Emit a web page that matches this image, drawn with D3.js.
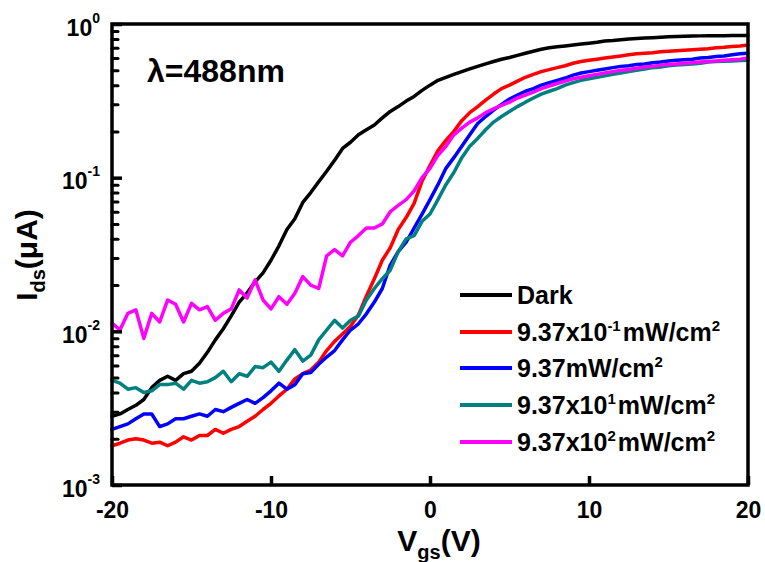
<!DOCTYPE html>
<html>
<head>
<meta charset="utf-8">
<script src="https://cdn.jsdelivr.net/npm/d3@7"></script>
<style>
  html, body { margin: 0; padding: 0; background: #fff; }
  svg { display: block; font-family: "Liberation Sans", Arial, sans-serif; font-weight: bold; }
</style>
</head>
<body>
<svg id="chart" width="765" height="562"></svg>
<script>
// Gate voltage sweep (V)
const vgs = [
  -20, -19.5, -19, -18.5, -18, -17.5, -17, -16.5, -16, -15.5,
  -15, -14.5, -14, -13.5, -13, -12.5, -12, -11.5, -11, -10.5,
  -10, -9.5, -9, -8.5, -8, -7.5, -7, -6.5, -6, -5.5,
  -5, -4.5, -4, -3.5, -3, -2.5, -2, -1.5, -1, -0.5,
  0, 0.5, 1, 1.5, 2, 2.5, 3, 3.5, 4, 4.5,
  5, 5.5, 6, 6.5, 7, 7.5, 8, 8.5, 9, 9.5,
  10, 10.5, 11, 11.5, 12, 12.5, 13, 13.5, 14, 14.5,
  15, 15.5, 16, 16.5, 17, 17.5, 18, 18.5, 19, 19.5, 20
];

// Drain current Ids (uA) for each illumination condition
const idsDark = [
  0.0028, 0.0029, 0.0031, 0.0033, 0.0036, 0.0043, 0.0048, 0.0051, 0.0048, 0.0053,
  0.0055, 0.0062, 0.0073, 0.0088, 0.0104, 0.0126, 0.0155, 0.0178, 0.021, 0.024,
  0.029, 0.036, 0.046, 0.054, 0.069, 0.080, 0.094, 0.110, 0.130, 0.155,
  0.170, 0.190, 0.205, 0.220, 0.245, 0.270, 0.290, 0.315, 0.338, 0.370,
  0.400, 0.430, 0.450, 0.470, 0.490, 0.510, 0.530, 0.550, 0.570, 0.590,
  0.605, 0.625, 0.645, 0.665, 0.685, 0.700, 0.710, 0.720, 0.730, 0.740,
  0.750, 0.760, 0.775, 0.780, 0.790, 0.800, 0.805, 0.810, 0.815, 0.820,
  0.825, 0.830, 0.833, 0.835, 0.837, 0.840, 0.840, 0.840, 0.842, 0.842, 0.842
];
const idsP1 = [
  0.0018, 0.00187, 0.00196, 0.0020, 0.00196, 0.00187, 0.0019, 0.0018, 0.0019, 0.00206,
  0.00196, 0.0021, 0.0021, 0.0023, 0.00217, 0.0023, 0.0024, 0.0026, 0.0028, 0.0031,
  0.0034, 0.0038, 0.0042, 0.0049, 0.0053, 0.0056, 0.0063, 0.0075, 0.0086, 0.0096,
  0.0108, 0.0128, 0.017, 0.022, 0.029, 0.035, 0.046, 0.055, 0.068, 0.095,
  0.120, 0.150, 0.175, 0.200, 0.235, 0.265, 0.290, 0.320, 0.350, 0.380,
  0.400, 0.425, 0.450, 0.470, 0.490, 0.505, 0.520, 0.535, 0.555, 0.570,
  0.580, 0.590, 0.600, 0.610, 0.620, 0.630, 0.640, 0.645, 0.650, 0.660,
  0.665, 0.670, 0.675, 0.680, 0.685, 0.690, 0.700, 0.705, 0.715, 0.720, 0.730
];
const idsP2 = [
  0.0023, 0.0024, 0.0025, 0.0027, 0.0029, 0.0029, 0.0024, 0.0025, 0.0027, 0.0027,
  0.0028, 0.0029, 0.0028, 0.0031, 0.0030, 0.0032, 0.0034, 0.0036, 0.0034, 0.0037,
  0.0041, 0.0046, 0.0042, 0.0045, 0.0053, 0.0054, 0.0061, 0.0068, 0.0075, 0.0088,
  0.0102, 0.0112, 0.013, 0.0155, 0.019, 0.027, 0.033, 0.038, 0.047, 0.058,
  0.072, 0.090, 0.115, 0.135, 0.160, 0.190, 0.225, 0.250, 0.275, 0.300,
  0.325, 0.345, 0.365, 0.380, 0.400, 0.415, 0.430, 0.445, 0.465, 0.480,
  0.490, 0.500, 0.510, 0.520, 0.530, 0.535, 0.545, 0.550, 0.560, 0.565,
  0.575, 0.580, 0.585, 0.590, 0.600, 0.605, 0.615, 0.620, 0.630, 0.640, 0.645
];
const idsP3 = [
  0.0048, 0.0046, 0.0042, 0.0043, 0.0040, 0.0041, 0.0045, 0.0045, 0.0046, 0.0042,
  0.0048, 0.0046, 0.0047, 0.0050, 0.0055, 0.0047, 0.0053, 0.0051, 0.0059, 0.0058,
  0.0063, 0.0055, 0.0065, 0.0076, 0.0064, 0.0070, 0.0088, 0.0102, 0.0118, 0.0105,
  0.0118, 0.0126, 0.0160, 0.019, 0.022, 0.025, 0.033, 0.040, 0.042, 0.052,
  0.058, 0.072, 0.090, 0.108, 0.135, 0.160, 0.180, 0.205, 0.230, 0.250,
  0.270, 0.290, 0.310, 0.330, 0.350, 0.365, 0.380, 0.400, 0.415, 0.430,
  0.440, 0.450, 0.460, 0.470, 0.480, 0.490, 0.500, 0.510, 0.520, 0.525,
  0.535, 0.540, 0.545, 0.550, 0.555, 0.565, 0.570, 0.572, 0.575, 0.578, 0.580
];
const idsP4 = [
  0.0113, 0.0102, 0.0131, 0.0138, 0.0090, 0.0131, 0.0115, 0.016, 0.0150, 0.0115,
  0.0152, 0.0138, 0.0145, 0.0118, 0.0131, 0.0140, 0.0186, 0.0165, 0.0216, 0.016,
  0.0140, 0.0168, 0.0150, 0.0177, 0.0227, 0.0200, 0.019, 0.031, 0.034, 0.031,
  0.038, 0.042, 0.047, 0.047, 0.050, 0.060, 0.066, 0.072, 0.082, 0.100,
  0.115, 0.140, 0.160, 0.190, 0.210, 0.230, 0.245, 0.265, 0.280, 0.295,
  0.310, 0.330, 0.345, 0.360, 0.380, 0.395, 0.410, 0.425, 0.440, 0.450,
  0.460, 0.470, 0.480, 0.490, 0.500, 0.505, 0.515, 0.525, 0.530, 0.540,
  0.545, 0.550, 0.555, 0.560, 0.565, 0.570, 0.575, 0.580, 0.585, 0.590, 0.600
];

// Legend labels: plain runs and superscript runs
const seriesLabels = [
  [{t: "Dark"}],
  [{t: "9.37x10"}, {t: "-1", sup: true}, {t: "mW/cm"}, {t: "2", sup: true}],
  [{t: "9.37mW/cm"}, {t: "2", sup: true}],
  [{t: "9.37x10"}, {t: "1", sup: true}, {t: "mW/cm"}, {t: "2", sup: true}],
  [{t: "9.37x10"}, {t: "2", sup: true}, {t: "mW/cm"}, {t: "2", sup: true}]
];
const seriesColors = ["#000000", "#ff0000", "#0000ff", "#008080", "#ff00ff"];
const seriesValues = [idsDark, idsP1, idsP2, idsP3, idsP4];

// Axis ticks
const xTickValues = [-20, -10, 0, 10, 20];
const yDecadeValues = [1e-3, 1e-2, 1e-1, 1];
const yDecadeExponents = ["-3", "-2", "-1", "0"];

const svg = d3.select("#chart");
const plot = {left: 112, right: 748, top: 24, bottom: 485};

const x = d3.scaleLinear().domain([-20, 20]).range([plot.left, plot.right]);
const y = d3.scaleLog().domain([1e-3, 1]).range([plot.bottom, plot.top]);

// Writes a text run with superscripts into a <text> element
function richText(textSel, parts, supSize, supShift) {
  parts.forEach(p => {
    if (p.sup) {
      textSel.append("tspan").attr("font-size", supSize).attr("dy", -supShift).text(p.t);
      textSel.append("tspan").attr("dy", supShift).text("\u200A");
    } else {
      textSel.append("tspan").text(p.t);
    }
  });
}

// Curves
const line = d3.line()
  .x((d, i) => x(vgs[i]))
  .y(d => y(d));

const curves = svg.append("g").attr("class", "curves");
seriesValues.forEach((vals, k) => {
  curves.append("path")
    .datum(vals)
    .attr("fill", "none")
    .attr("stroke", seriesColors[k])
    .attr("stroke-width", 3.5)
    .attr("stroke-linejoin", "round")
    .attr("stroke-linecap", "round")
    .attr("d", line);
});

// X axis (ticks pointing inward)
const xAxis = d3.axisBottom(x)
  .tickValues(xTickValues)
  .tickSizeInner(-9)
  .tickSizeOuter(0)
  .tickPadding(0)
  .tickFormat(d3.format("d"));
const gx = svg.append("g").attr("transform", `translate(0,${plot.bottom})`).call(xAxis);
gx.select(".domain").remove();
gx.selectAll(".tick line").attr("stroke", "#000").attr("stroke-width", 3.5);
gx.selectAll(".tick text")
  .attr("y", 33).attr("dy", null)
  .attr("font-size", 23).attr("font-family", null).attr("font-weight", "bold")
  .attr("fill", "#000")
  .text(d => d3.format("d")(d).replace("\u2212", "-"));

// Y axis: minor ticks between decades
const yMinor = [];
for (let e = -3; e < 0; e++) {
  for (let m = 2; m <= 9; m++) yMinor.push(m * Math.pow(10, e));
}
const gyMinor = svg.append("g").attr("transform", `translate(${plot.left},0)`)
  .call(d3.axisLeft(y).tickValues(yMinor).tickSizeInner(-6).tickSizeOuter(0).tickFormat(() => ""));
gyMinor.select(".domain").remove();
gyMinor.selectAll(".tick line").attr("stroke", "#000").attr("stroke-width", 3).attr("stroke-linecap", "round");

// Y axis: major decade ticks and labels 10^n
const gyMajor = svg.append("g").attr("transform", `translate(${plot.left},0)`)
  .call(d3.axisLeft(y).tickValues(yDecadeValues).tickSizeInner(-10).tickSizeOuter(0).tickFormat(() => ""));
gyMajor.select(".domain").remove();
gyMajor.selectAll(".tick line").attr("stroke", "#000").attr("stroke-width", 3.5);
gyMajor.selectAll(".tick text").remove();
gyMajor.selectAll(".tick").each(function(d) {
  const i = yDecadeValues.indexOf(d);
  const t = d3.select(this).append("text")
    .attr("x", -12).attr("y", 11)
    .attr("text-anchor", "end")
    .attr("font-size", 23)
    .attr("fill", "#000");
  t.append("tspan").text("10");
  t.append("tspan").attr("font-size", 14).attr("dy", -13).text(yDecadeExponents[i]);
});

// Frame
svg.append("rect")
  .attr("x", plot.left).attr("y", plot.top)
  .attr("width", plot.right - plot.left).attr("height", plot.bottom - plot.top)
  .attr("fill", "none").attr("stroke", "#000").attr("stroke-width", 3.5);

// Wavelength annotation
svg.append("text")
  .attr("x", 147).attr("y", 82)
  .attr("font-size", 32).attr("fill", "#000")
  .text("\u03BB=488nm");

// Axis titles
const xTitle = svg.append("text")
  .attr("x", 439).attr("y", 551)
  .attr("text-anchor", "middle").attr("font-size", 30).attr("fill", "#000");
xTitle.append("tspan").text("V");
xTitle.append("tspan").attr("font-size", 20).attr("dy", 8).text("gs");
xTitle.append("tspan").attr("dy", -8).text("(V)");

const yTitle = svg.append("text")
  .attr("transform", "translate(37,255) rotate(-90)")
  .attr("text-anchor", "middle").attr("font-size", 30).attr("fill", "#000");
yTitle.append("tspan").text("I");
yTitle.append("tspan").attr("font-size", 20).attr("dy", 8).text("ds");
yTitle.append("tspan").attr("dy", -8).text("(\u03BCA)");

// Legend
const legendRows = [295, 332, 368, 405, 442];
const legend = svg.append("g").attr("class", "legend");
seriesLabels.forEach((parts, k) => {
  const ly = legendRows[k];
  legend.append("line")
    .attr("x1", 460).attr("x2", 512).attr("y1", ly).attr("y2", ly)
    .attr("stroke", seriesColors[k]).attr("stroke-width", 4);
  const t = legend.append("text")
    .attr("x", 517).attr("y", ly + 9)
    .attr("font-size", 25).attr("fill", "#000");
  richText(t, parts, 15, 10);
});
</script>
</body>
</html>
